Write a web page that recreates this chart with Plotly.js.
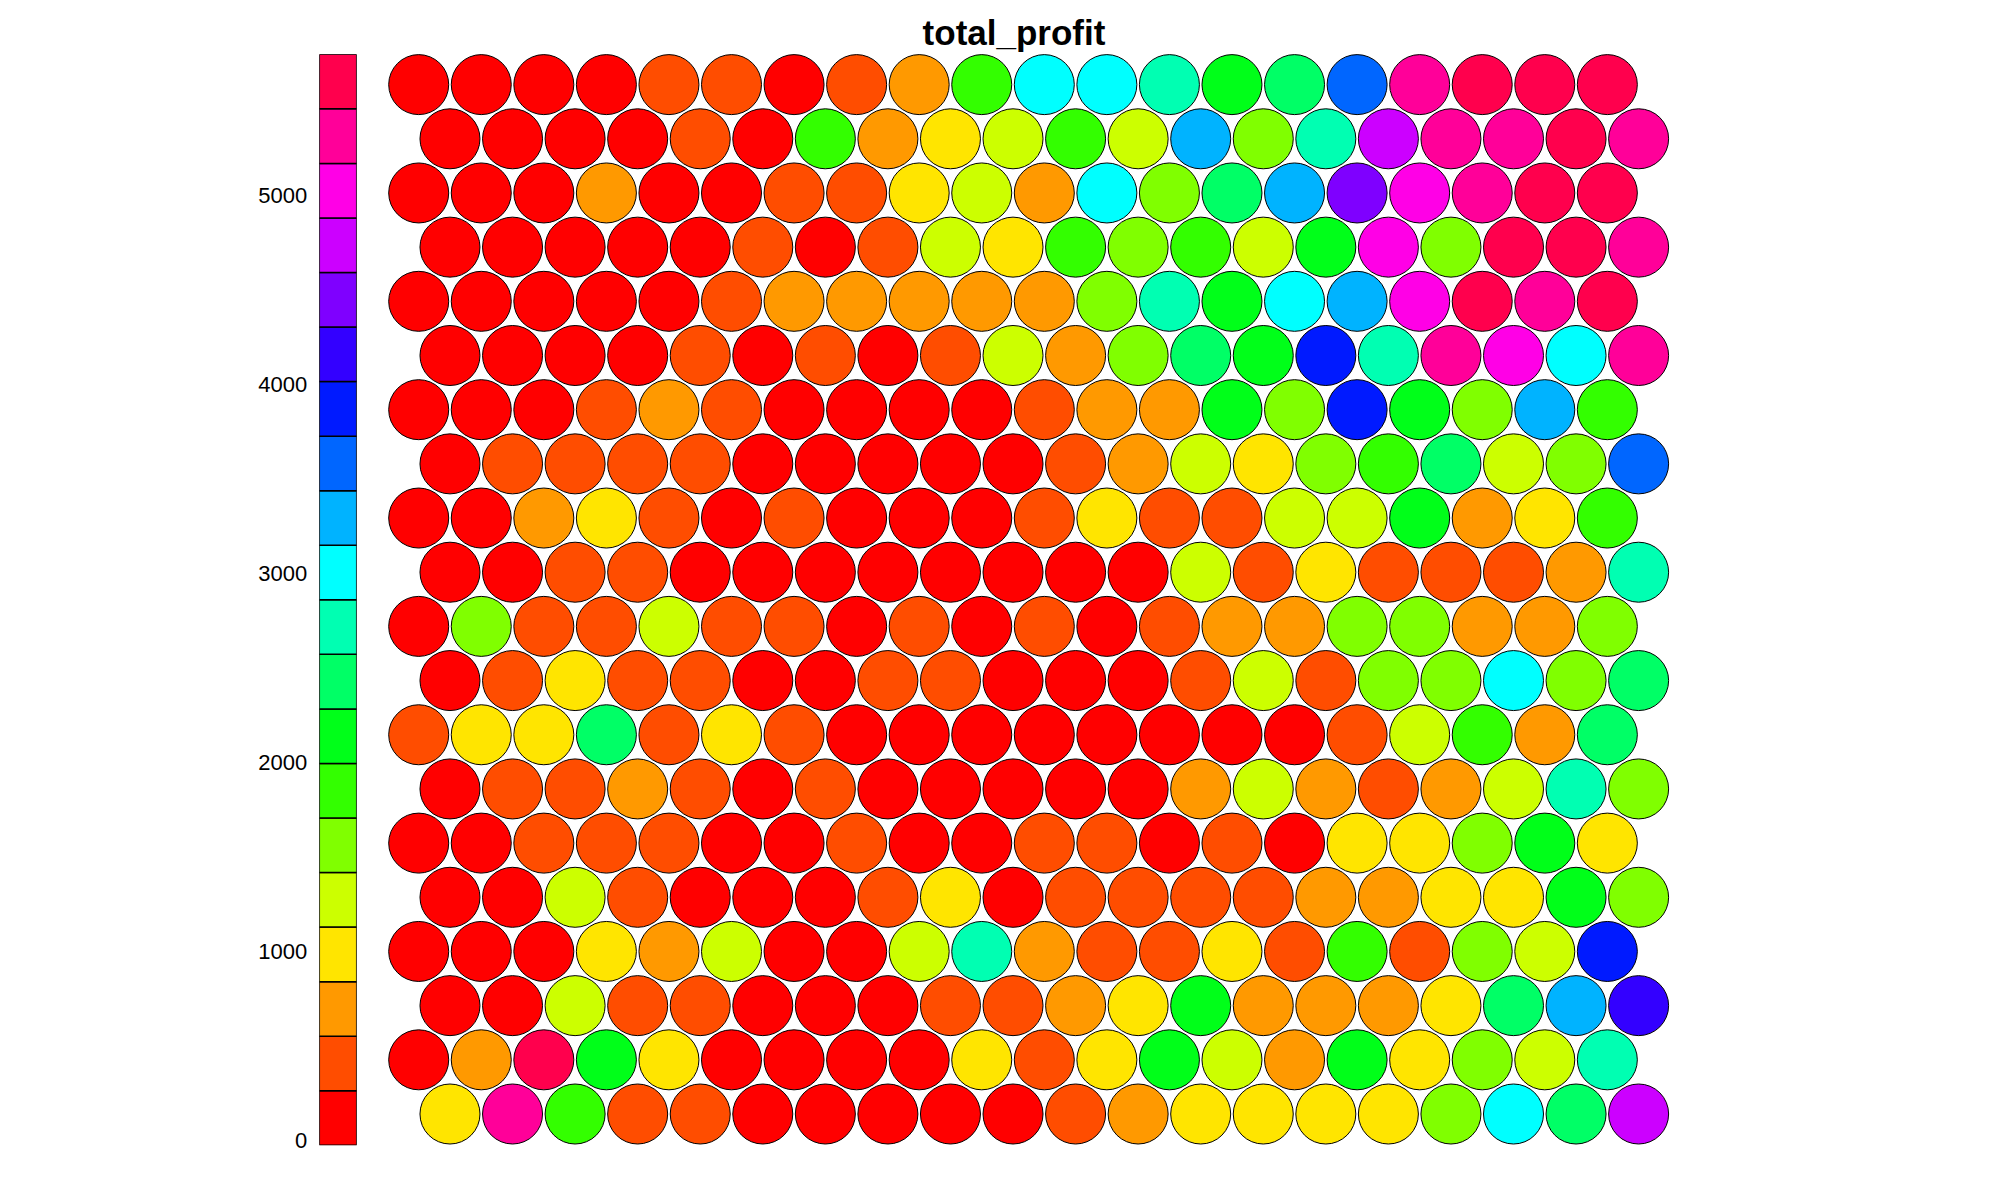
<!DOCTYPE html>
<html>
<head>
<meta charset="utf-8">
<script src="https://cdn.plot.ly/plotly-3.0.1.min.js"></script>
<style>html,body{margin:0;padding:0;background:#fff;}#chart{width:2000px;height:1200px;}</style>
</head>
<body>
<div id="chart"></div>
<script>
// total_profit per SOM unit, one array per grid row (row20 = top row, row01 = bottom row)
const row20 = [-28,116,116,116,405,405,116,405,694,1848,3003,3003,2714,2137,2425,3580,5311,5600,5744,5600];
const row19 = [116,116,116,116,405,116,1848,694,982,1271,1848,1271,3291,1559,2714,4734,5311,5311,5600,5311];
const row18 = [116,116,116,694,116,116,405,405,982,1271,694,3003,1559,2425,3291,4446,5023,5311,5600,5600];
const row17 = [116,116,116,116,116,405,116,405,1271,982,1848,1559,1848,1271,2137,5023,1559,5600,5600,5311];
const row16 = [116,116,116,116,116,405,694,694,694,694,694,1559,2714,2137,3003,3291,5023,5600,5311,5600];
const row15 = [116,116,116,116,405,116,405,116,405,1271,694,1559,2425,2137,3868,2714,5311,5023,3003,5311];
const row14 = [116,116,116,405,694,405,116,116,116,116,405,694,694,2137,1559,3868,2137,1559,3291,1848];
const row13 = [116,405,405,405,405,116,116,116,116,116,405,694,1271,982,1559,1848,2425,1271,1559,3580];
const row12 = [116,116,694,982,405,116,405,116,116,116,405,982,405,405,1271,1271,2137,694,982,1848];
const row11 = [116,116,405,405,116,116,116,116,116,116,116,116,1271,405,982,405,405,405,694,2714];
const row10 = [116,1559,405,405,1271,405,405,116,405,116,405,116,405,694,694,1559,1559,694,694,1559];
const row09 = [116,405,982,405,405,116,116,405,405,116,116,116,405,1271,405,1559,1559,3003,1559,2425];
const row08 = [405,982,982,2425,405,982,405,116,116,116,116,116,116,116,116,405,1271,1848,694,2425];
const row07 = [116,405,405,694,405,116,405,116,116,116,116,116,694,1271,694,405,694,1271,2714,1559];
const row06 = [116,116,405,405,405,116,116,405,116,116,405,405,116,405,116,982,982,1559,2137,982];
const row05 = [116,116,1271,405,116,116,116,405,982,116,405,405,405,405,694,694,982,982,2137,1559];
const row04 = [116,116,116,982,694,1271,116,116,1271,2714,694,405,405,982,405,1848,405,1559,1271,3868];
const row03 = [116,116,1271,405,405,116,116,116,405,405,694,982,2137,694,694,694,982,2425,3291,4157];
const row02 = [116,694,5600,2137,982,116,116,116,116,982,405,982,2137,1271,694,2137,982,1559,1271,2714];
const row01 = [982,5311,1848,405,405,116,116,116,116,116,405,694,982,982,982,982,1559,3003,2425,4734];

const colorbarTicks = [0,1000,2000,3000,4000,5000];
const chartTitle = 'total_profit';

// R rainbow(20) palette (style)
const palette = ["#FF0000","#FF4D00","#FF9900","#FFE500","#CCFF00","#80FF00","#33FF00","#00FF19",
  "#00FF66","#00FFB2","#00FFFF","#00B3FF","#0066FF","#001AFF","#3300FF","#7F00FF","#CC00FF",
  "#FF00E6","#FF0099","#FF004D"];

const rowsBottomUp = [row01,row02,row03,row04,row05,row06,row07,row08,row09,row10,
                      row11,row12,row13,row14,row15,row16,row17,row18,row19,row20];

let all = [];
rowsBottomUp.forEach(r => all = all.concat(r));
const vmin = Math.min(...all), vmax = Math.max(...all);
const nBins = palette.length;
const binW = (vmax - vmin) / nBins;
function colorOf(v){
  let k = Math.floor((v - vmin) / binW);
  if (k >= nBins) k = nBins - 1;
  if (k < 0) k = 0;
  return palette[k];
}

// hexagonal SOM grid coordinates
const xs = [], ys = [], cs = [], vs = [];
const h = Math.sqrt(3) / 2;
rowsBottomUp.forEach((vals, ri) => {
  const r = ri + 1;
  vals.forEach((v, ci) => {
    xs.push((ci + 1) + (r % 2 === 1 ? 0.5 : 0));
    ys.push((r - 1) * h);
    cs.push(colorOf(v));
    vs.push(v);
  });
});

const units = {
  type: 'scatter', mode: 'markers', x: xs, y: ys, text: vs,
  xaxis: 'x', yaxis: 'y',
  marker: {size: 60, color: cs, line: {color: '#000', width: 1}},
  hoverinfo: 'text', showlegend: false
};

// colour key as stacked segments
const segBase = [], segLen = [], segX = [];
for (let k = 0; k < nBins; k++) { segBase.push(vmin + k * binW); segLen.push(binW); segX.push(0); }
const key = {
  type: 'bar', x: segX, y: segLen, base: segBase, width: 1,
  xaxis: 'x2', yaxis: 'y2',
  marker: {color: palette, line: {color: '#000', width: 1.5}},
  hoverinfo: 'skip', showlegend: false
};

// pixel calibration: unit = 62.56 px; x=1 at 418.7 px; bottom row at 1114 px from top
const ux = 62.56;
const x0 = 1 - 418.7 / ux, x1 = x0 + 2000 / ux;
const y1 = 1114 / ux, y0 = y1 - 1200 / ux;

const hidden = {showgrid: false, zeroline: false, showline: false, showticklabels: false, ticks: '', fixedrange: true};

const layout = {
  width: 2000, height: 1200,
  margin: {l: 0, r: 0, t: 0, b: 0, pad: 0},
  paper_bgcolor: '#fff', plot_bgcolor: 'rgba(0,0,0,0)',
  font: {family: 'Liberation Sans, Arial, sans-serif', color: '#000'},
  title: {text: chartTitle, x: 1014/2000, xanchor: 'center', xref: 'paper', y: 1 - 33/1200, yanchor: 'middle', yref: 'paper',
          font: {size: 35, weight: 'bold', family: 'Liberation Sans, Arial, sans-serif', color: '#000'}},
  xaxis: Object.assign({domain: [0, 1], range: [x0, x1]}, hidden),
  yaxis: Object.assign({domain: [0, 1], range: [y0, y1]}, hidden),
  xaxis2: Object.assign({domain: [319.3/2000, 356.7/2000], range: [-0.5, 0.5], anchor: 'y2'}, hidden),
  yaxis2: {domain: [1 - 1145.3/1200, 1 - 54.3/1200], range: [vmin, vmax], anchor: 'x2', side: 'left',
           showgrid: false, zeroline: false, showline: false, ticks: '', tickvals: colorbarTicks,
           ticktext: colorbarTicks.map(String), ticklabelstandoff: 11,
           tickfont: {size: 22, color: '#000', family: 'Liberation Sans, Arial, sans-serif'}, fixedrange: true},
  bargap: 0, hovermode: 'closest', showlegend: false
};

Plotly.newPlot('chart', [key, units], layout, {displayModeBar: false, staticPlot: true});
</script>
</body>
</html>
